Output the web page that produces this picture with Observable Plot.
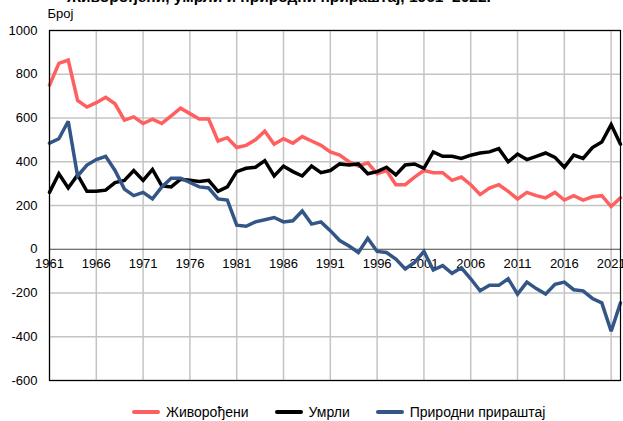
<!DOCTYPE html>
<html>
<head>
<meta charset="utf-8">
<script src="https://cdn.jsdelivr.net/npm/d3@7"></script>
<script src="https://cdn.jsdelivr.net/npm/@observablehq/plot@0.6"></script>
<style>
  html, body { margin: 0; padding: 0; background: #fff; }
  body { width: 623px; height: 421px; overflow: hidden; position: relative; font-family: "Liberation Sans", Arial, sans-serif; }
  #title { position: absolute; top: -12px; left: 67px; font-weight: bold; font-size: 15.5px; color: #000; white-space: nowrap; }
  #chart { position: absolute; top: 0; left: 0; }
  #legend { position: absolute; top: 401px; left: 132px; height: 21px; display: flex; align-items: center; font-size: 14px; color: #000; }
  .item { display: flex; align-items: center; margin-right: 26px; }
  .sw { width: 28px; height: 4px; border-radius: 2px; margin-right: 6px; }
</style>
</head>
<body>
<div id="title">Живорођени, умрли и природни прираштај, 1961–2022.</div>
<div id="chart"></div>
<div id="legend"></div>
<script>
const years = [1961,1962,1963,1964,1965,1966,1967,1968,1969,1970,1971,1972,1973,1974,1975,1976,1977,1978,1979,1980,1981,1982,1983,1984,1985,1986,1987,1988,1989,1990,1991,1992,1993,1994,1995,1996,1997,1998,1999,2000,2001,2002,2003,2004,2005,2006,2007,2008,2009,2010,2011,2012,2013,2014,2015,2016,2017,2018,2019,2020,2021,2022];
const births = [750,850,865,680,650,670,695,665,590,605,575,595,575,610,645,620,595,595,495,510,465,475,500,540,480,505,485,515,495,475,445,430,400,380,395,345,360,295,295,330,360,350,350,315,330,295,250,280,295,265,230,260,245,235,260,225,245,225,240,245,195,235];
const deaths = [260,345,280,340,265,265,270,305,315,360,315,365,290,285,320,315,310,315,265,285,355,370,375,405,335,380,355,335,380,350,360,390,385,390,345,355,375,340,385,390,370,445,425,425,415,430,440,445,460,400,435,410,425,440,420,375,430,415,465,490,570,480];
const increase = [485,505,585,335,385,410,425,360,275,245,260,230,285,325,325,305,285,280,230,225,110,105,125,135,145,125,130,175,115,125,85,40,15,-15,50,-10,-15,-45,-90,-60,-10,-95,-75,-110,-85,-135,-190,-165,-165,-135,-205,-150,-180,-205,-160,-150,-185,-190,-225,-245,-375,-245];
const seriesNames = ["Живорођени", "Умрли", "Природни прираштај"];
const seriesColors = ["#ff5f5f", "#000000", "#335687"];
const xTicks = [1961,1966,1971,1976,1981,1986,1991,1996,2001,2006,2011,2016,2021];
const yTicks = [-600,-400,-200,0,200,400,600,800,1000];
const yLabel = "Број";

const rows = [];
[births, deaths, increase].forEach((arr, i) => {
  arr.forEach((v, j) => rows.push({year: years[j], value: v, series: seriesNames[i]}));
});

const font = "Liberation Sans, Arial, sans-serif";
const plot = Plot.plot({
  width: 623,
  height: 392,
  marginLeft: 49,
  marginRight: 3,
  marginTop: 30,
  marginBottom: 12,
  style: {fontFamily: font, fontSize: "13px", color: "#000", background: "transparent", overflow: "visible"},
  x: {domain: [1961, 2022], axis: null},
  y: {domain: [-600, 1000], ticks: yTicks, label: null},
  color: {domain: seriesNames, range: seriesColors},
  marks: [
    Plot.ruleX(xTicks, {stroke: "#c4c4c4", strokeWidth: 1.5}),
    Plot.ruleY(yTicks.filter(d => d !== 0), {stroke: "#c4c4c4", strokeWidth: 1.5}),
    Plot.ruleY([0], {stroke: "#444", strokeWidth: 1.2}),
    Plot.text(xTicks, {x: d => d, y: 0, text: d => String(d), dy: 15, fontSize: 13, fill: "#000"}),
    Plot.axisY({ticks: yTicks, tickSize: 0, tickPadding: 12, fontSize: 13, label: null, tickFormat: d => String(d)}),
    Plot.text([yLabel], {frameAnchor: "top-left", dx: -2, dy: -22, text: d => d, fontSize: 13, textAnchor: "start"}),
    Plot.line(rows, {x: "year", y: "value", z: "series", stroke: "series", strokeWidth: 3.5, strokeLinejoin: "miter", strokeMiterlimit: 3}),
    Plot.frame({stroke: "#000", strokeWidth: 1.2})
  ]
});
document.getElementById("chart").appendChild(plot);

const legend = document.getElementById("legend");
seriesNames.forEach((n, i) => {
  const it = document.createElement("div");
  it.className = "item";
  const sw = document.createElement("div");
  sw.className = "sw";
  sw.style.background = seriesColors[i];
  const lb = document.createElement("span");
  lb.textContent = n;
  it.appendChild(sw); it.appendChild(lb);
  legend.appendChild(it);
});
</script>
</body>
</html>
